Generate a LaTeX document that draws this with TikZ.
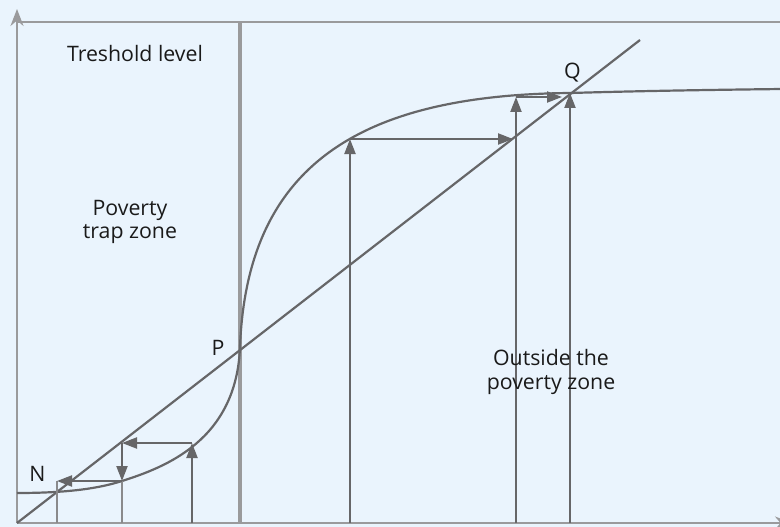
\documentclass[tikz,border=0pt]{standalone}
\usepackage{fontspec}
\setmainfont{Open Sans}
\usetikzlibrary{arrows.meta}

\definecolor{bgblue}{HTML}{EAF4FD}
\definecolor{axisgray}{HTML}{9A9A9C}
\definecolor{curvegray}{HTML}{666668}
\definecolor{dropgray}{HTML}{8A8A8C}
\definecolor{textblack}{HTML}{1A1A1A}

\tikzset{
  axisline/.style={draw=axisgray, line width=2pt},
  curveline/.style={draw=curvegray, line width=2.2pt},
  stepline/.style={draw=curvegray, line width=2.2pt, -{Triangle[length=15pt,width=11pt]}},
  dropline/.style={draw=dropgray, line width=2pt},
  lbl/.style={text=textblack, font=\fontsize{21.3}{23.5}\selectfont, align=center, inner sep=0pt}
}

\begin{document}
\begin{tikzpicture}[x=1pt,y=-1pt]

%%%%%%%%%%%%%%%%%%%%%%%%%%%%%%%%%%%%%%%%%%%%%%%%%%%%%%%%%%%%
% BACKGROUND AND AXES
%%%%%%%%%%%%%%%%%%%%%%%%%%%%%%%%%%%%%%%%%%%%%%%%%%%%%%%%%%%%

\useasboundingbox (0,0) rectangle (780,527);
\clip (0,0) rectangle (780,527);
\fill[bgblue] (0,0) rectangle (780,527);

\coordinate (origin) at (17,523);
\coordinate (ytop) at (17,9);
\coordinate (xend) at (792,523);
\coordinate (topleft) at (17,22);
\coordinate (topright) at (792,22);

\draw[axisline, -{Stealth[length=17pt,width=13pt]}] (origin) -- (ytop);
\draw[axisline, -{Stealth[length=17pt,width=13pt]}] (origin) -- (xend);
\draw[axisline] (topleft) -- (topright);

% threshold
\coordinate (thtop) at (240,22);
\coordinate (thbot) at (240,523);
\draw[draw=axisgray, line width=4pt] (thtop) -- (thbot);

%%%%%%%%%%%%%%%%%%%%%%%%%%%%%%%%%%%%%%%%%%%%%%%%%%%%%%%%%%%%
% 45 DEGREE LINE AND S-CURVE
%%%%%%%%%%%%%%%%%%%%%%%%%%%%%%%%%%%%%%%%%%%%%%%%%%%%%%%%%%%%

\coordinate (diagend) at (640,40);
\draw[curveline] (origin) -- (diagend);

\coordinate (Ppt) at (240,347);
\coordinate (Qpt) at (570,93);
\coordinate (Npt) at (57,491);

\draw[curveline]
  (17,493) .. controls (70,493) and (100,488) .. (122,481)
  .. controls (166,467) and (236.4,440) .. (Ppt)
  .. controls (247,165) and (360,95) .. (Qpt)
  .. controls (640,91) and (700,90) .. (782,89);

%%%%%%%%%%%%%%%%%%%%%%%%%%%%%%%%%%%%%%%%%%%%%%%%%%%%%%%%%%%%
% LEFT STAIRCASE (towards N)
%%%%%%%%%%%%%%%%%%%%%%%%%%%%%%%%%%%%%%%%%%%%%%%%%%%%%%%%%%%%

\coordinate (a0) at (192,523);
\coordinate (a1) at (192,443);
\coordinate (a2) at (122,443);
\coordinate (a3) at (122,481);
\coordinate (a4) at (57,481);
\coordinate (b3) at (122,523);
\coordinate (b4) at (57,523);

\draw[dropline] (b3) -- (a3);
\draw[dropline] (b4) -- (a4);
\draw[stepline] (a0) -- (a1);
\draw[stepline] (a1) -- (a2);
\draw[stepline] (a2) -- (a3);
\draw[stepline] (a3) -- (a4);

%%%%%%%%%%%%%%%%%%%%%%%%%%%%%%%%%%%%%%%%%%%%%%%%%%%%%%%%%%%%
% RIGHT STAIRCASE (towards Q)
%%%%%%%%%%%%%%%%%%%%%%%%%%%%%%%%%%%%%%%%%%%%%%%%%%%%%%%%%%%%

\coordinate (r0) at (350,523);
\coordinate (r1) at (350,139);
\coordinate (r2) at (513,139);
\coordinate (s0) at (516,523);
\coordinate (s1) at (516,97);
\coordinate (s2) at (562,97);
\coordinate (q0) at (570,523);

\draw[stepline] (r0) -- (r1);
\draw[stepline] (r1) -- (r2);
\draw[stepline] (s0) -- (s1);
\draw[stepline] (s1) -- (s2);
\draw[stepline] (q0) -- (Qpt);

%%%%%%%%%%%%%%%%%%%%%%%%%%%%%%%%%%%%%%%%%%%%%%%%%%%%%%%%%%%%
% LABELS
%%%%%%%%%%%%%%%%%%%%%%%%%%%%%%%%%%%%%%%%%%%%%%%%%%%%%%%%%%%%

\node[lbl] (treshold) at (135,53.5) {Treshold level};
\node[lbl] (trapzone) at (130,222) {Poverty\\trap zone};
\node[lbl] (outside) at (551,372) {Outside the\\poverty zone};
\node[lbl] (plabel) at (218,347.5) {P};
\node[lbl] (nlabel) at (37.5,474) {N};
\node[lbl] (qlabel) at (572.5,73) {Q};

\end{tikzpicture}
\end{document}
